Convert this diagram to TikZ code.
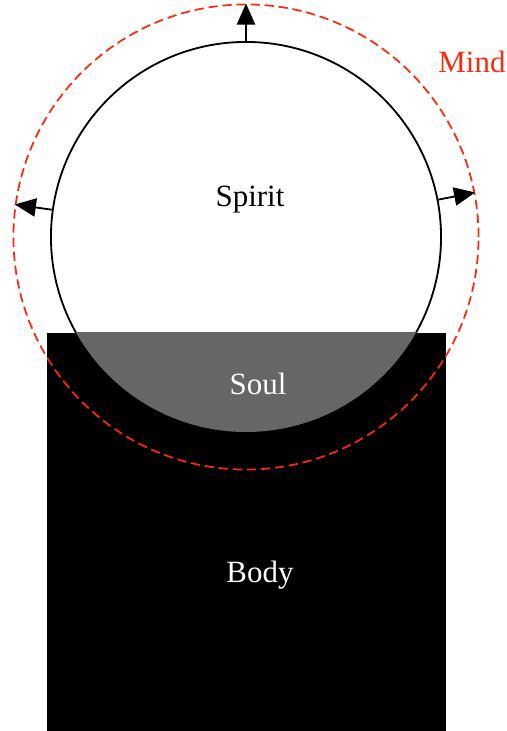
\documentclass[tikz,border=0pt]{standalone}
\usepackage{fontspec}
\setmainfont{Liberation Serif}
\usetikzlibrary{arrows.meta}
\definecolor{mindred}{RGB}{250,42,12}
\definecolor{soulgray}{RGB}{102,102,102}
\tikzset{
  label text/.style={font=\fontsize{22}{26}\selectfont},
  reach/.style={-{Triangle[length=15pt,width=13pt]}, line width=1.3pt}
}
\begin{document}
\begin{tikzpicture}[x=0.025cm, y=0.025cm]
    \useasboundingbox (0,0) rectangle (507,731);

    % Spirit circle
    \node[circle, draw, line width=1.3pt, minimum size=9.75cm, inner sep=0] (spirit) at (246,494) {};

    % Body and the overlap (Soul)
    \fill[black] (47,0) rectangle (446,398);
    \begin{scope}
        \clip (47,0) rectangle (446,398);
        \fill[soulgray] (246,494) circle (195);
    \end{scope}

    % Mind circle
    \node[circle, draw=mindred, dash pattern=on 6.6pt off 3.4pt, line width=1.25pt, minimum size=11.625cm, inner sep=0] (mind) at (246,494) {};

    % Arrows
    \draw[reach] (spirit.90.5) -- (mind.90.5);
    \draw[reach] (spirit.172.5) -- (mind.172.5);
    \draw[reach] (spirit.11.5) -- (mind.11.5);

    % Labels
    \node[label text] (spiritlabel) at (250,531) {Spirit};
    \node[label text, white] (soullabel) at (258,347) {Soul};
    \node[label text, white] (bodylabel) at (260,156) {Body};
    \node[label text, mindred] (mindlabel) at (472,669) {Mind};
\end{tikzpicture}
\end{document}
